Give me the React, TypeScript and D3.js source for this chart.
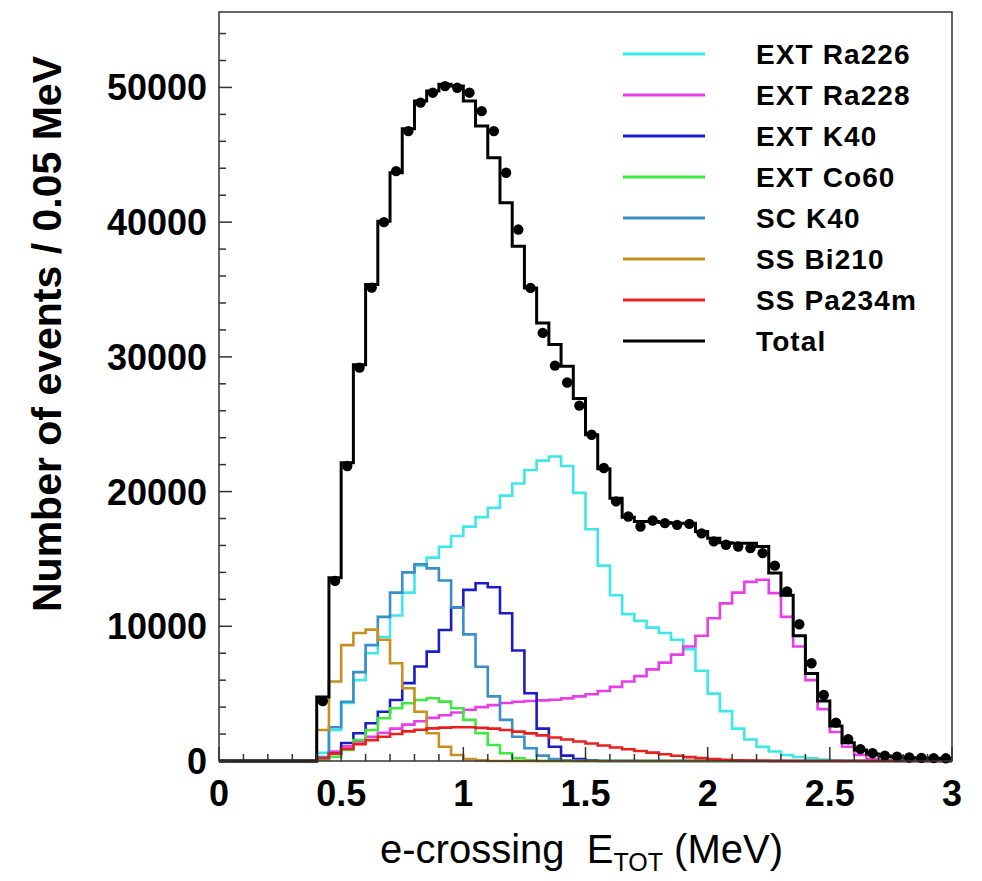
import React from "react";
import * as d3 from "d3";

const binWidth = 0.05;
const nBins = 60;
const firstBin = 8; // first filled bin (0.40 MeV)
const xTickLabels = ["0", "0.5", "1", "1.5", "2", "2.5", "3"];
const yTickLabels = ["0", "10000", "20000", "30000", "40000", "50000"];

// values listed from bin 8 (0.40-0.45 MeV) onwards; remaining bins are empty
const extRa226 = [600, 2300, 4300, 6000, 8000, 9200, 10800, 12500, 14500, 15100, 15900, 16700, 17400, 18100, 18800, 19700, 20600, 21600, 22300, 22600, 21900, 19900, 17200, 14500, 12300, 10900, 10400, 9900, 9500, 9000, 8300, 6700, 5000, 3700, 2400, 1600, 1050, 700, 450, 300, 200, 100, 50];
const extRa228 = [250, 700, 1100, 1450, 1800, 2100, 2400, 2700, 2950, 3200, 3400, 3600, 3800, 4000, 4150, 4300, 4400, 4450, 4500, 4550, 4650, 4800, 4950, 5200, 5500, 5900, 6300, 6800, 7300, 7900, 8500, 9300, 10600, 11700, 12500, 13300, 13450, 12460, 10700, 8500, 6000, 3850, 2150, 1060, 450, 150, 50];
const extK40 = [200, 570, 1340, 2060, 2800, 3660, 4530, 5780, 7010, 8120, 9730, 11400, 12700, 13200, 12900, 10970, 8200, 5030, 2400, 1060, 400, 150, 50];
const extCo60 = [100, 320, 820, 1560, 2300, 3170, 3920, 4290, 4530, 4660, 4410, 3920, 3050, 2060, 1190, 570, 200, 50];
const scK40 = [300, 2500, 4400, 6600, 8600, 10700, 12500, 14000, 14600, 14300, 13400, 11400, 9400, 7000, 4800, 3050, 1800, 950, 400, 150, 50];
const ssBi210 = [2300, 5900, 8600, 9500, 9750, 9000, 7260, 5400, 3660, 2060, 1060, 450, 150, 50];
const ssPa234m = [200, 550, 900, 1250, 1550, 1800, 2000, 2200, 2320, 2420, 2480, 2500, 2500, 2460, 2400, 2300, 2180, 2050, 1900, 1750, 1600, 1450, 1300, 1150, 1000, 870, 740, 620, 500, 390, 290, 210, 140, 90, 50, 30, 15];
const totalMC = [4750, 13600, 22140, 29420, 35370, 40070, 43670, 46940, 48990, 49730, 50230, 50100, 48990, 47130, 44780, 41440, 38210, 35120, 32520, 30910, 29300, 26900, 24220, 21700, 19500, 18100, 17780, 17780, 17700, 17650, 17650, 17040, 16540, 16200, 16170, 16170, 15920, 13950, 12300, 9300, 6500, 4450, 2600, 1350, 820, 520, 370, 300, 250, 220, 200, 180];
const dataPoints = [4450, 13370, 21900, 29200, 35140, 40000, 43790, 46760, 48870, 49610, 50100, 49980, 49610, 48240, 46760, 43670, 39450, 35120, 31780, 29350, 28100, 26380, 24220, 21750, 19270, 18150, 17410, 17850, 17660, 17530, 17600, 16900, 16300, 16050, 15920, 15800, 15430, 14500, 12580, 10150, 7260, 4900, 2850, 1620, 880, 580, 400, 320, 260, 230, 210, 200];

const seriesNames = ["EXT Ra226", "EXT Ra228", "EXT K40", "EXT Co60", "SC K40", "SS Bi210", "SS Pa234m", "Total"];
const seriesColors = ["#3ee8e8", "#e83ee8", "#1c1cc8", "#3ee83e", "#3a8fc8", "#c89020", "#e82020", "#000000"];
const seriesValues = [extRa226, extRa228, extK40, extCo60, scK40, ssBi210, ssPa234m, totalMC];

const W = 982;
const H = 881;
const L = 219, R = 952, T = 12, B = 761;

const toBins = (vals: number[]) =>
  Array.from({ length: nBins }, (_, i) => {
    const k = i - firstBin;
    return k >= 0 && k < vals.length ? vals[k] : 0;
  });

export default function App() {
  const x = d3.scaleLinear().domain([0, 3]).range([L, R]);
  const y = d3.scaleLinear().domain([0, 55600]).range([B, T]);

  const histPath = (raw: number[]) => {
    const vals = toBins(raw);
    const pts: [number, number][] = vals.map((v, i) => [i * binWidth, v]);
    pts.push([nBins * binWidth, vals[nBins - 1]]);
    return d3
      .line<[number, number]>()
      .x((d) => x(d[0]))
      .y((d) => y(d[1]))
      .curve(d3.curveStepAfter)(pts) as string;
  };

  const dataBins = toBins(dataPoints);
  const xMinor = d3.range(0, 31).map((i) => i * 0.1);
  const yMinor = d3.range(0, 28).map((i) => i * 2000);

  const font = "'Liberation Sans', Arial, Helvetica, sans-serif";

  return (
    <svg
      width={W}
      height={H}
      style={{ position: "absolute", left: 0, top: 0, background: "#fff" }}
      fontFamily={font}
    >
      <rect x={0} y={0} width={W} height={H} fill="#fff" />
      {seriesValues.map((vals, k) => (
        <path
          key={k}
          d={histPath(vals)}
          fill="none"
          stroke={seriesColors[k]}
          strokeWidth={k === 7 ? 3 : 2.6}
          strokeLinejoin="miter"
        />
      ))}
      {dataBins.map((v, i) =>
        v > 0 ? (
          <circle key={i} cx={x((i + 0.5) * binWidth)} cy={y(v)} r={5.2} fill="#000" />
        ) : null
      )}
      <rect x={L} y={T} width={R - L} height={B - T} fill="none" stroke="#333" strokeWidth={1.5} />
      {yMinor.map((v) => {
        const major = v % 10000 === 0;
        return (
          <line key={"yt" + v} x1={L} x2={L + (major ? 13 : 7)} y1={y(v)} y2={y(v)} stroke="#333" strokeWidth={1.5} />
        );
      })}
      {xMinor.map((v, i) => {
        const major = i % 5 === 0;
        return (
          <line key={"xt" + i} x1={x(v)} x2={x(v)} y1={B} y2={B - (major ? 14 : 7)} stroke="#333" strokeWidth={1.5} />
        );
      })}
      {yTickLabels.map((t) => (
        <text key={"yl" + t} x={207} y={y(+t)} dy="0.36em" textAnchor="end" fontSize={36} fontWeight="bold">
          {t}
        </text>
      ))}
      {xTickLabels.map((t) => (
        <text key={"xl" + t} x={x(+t)} y={806} textAnchor="middle" fontSize={36} fontWeight="bold">
          {t}
        </text>
      ))}
      <text
        transform={`translate(61, 334) rotate(-90)`}
        textAnchor="middle"
        fontSize={41}
        fontWeight="bold"
      >
        Number of events / 0.05 MeV
      </text>
      <text x={380} y={863} fontSize={40}>
        e-crossing{"\u00A0\u00A0"}E
        <tspan fontSize={25} dy={8}>TOT</tspan>
        <tspan dy={-8}>{"\u00A0"}(MeV)</tspan>
      </text>
      {seriesNames.map((n, k) => {
        const ly = 54 + k * 41;
        return (
          <g key={"lg" + k}>
            <line x1={623} x2={705} y1={ly} y2={ly} stroke={seriesColors[k]} strokeWidth={3} />
            <text x={756} y={ly + 10} fontSize={28} fontWeight="bold" letterSpacing={1.1}>
              {n}
            </text>
          </g>
        );
      })}
    </svg>
  );
}
